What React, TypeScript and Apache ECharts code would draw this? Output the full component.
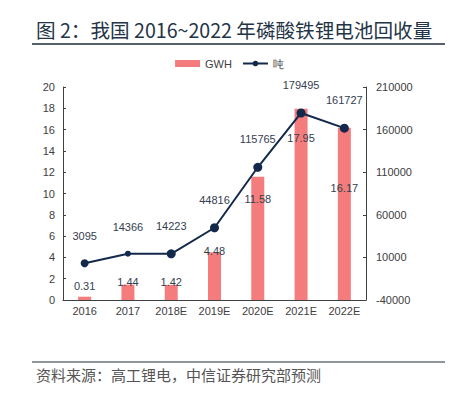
import React, { useEffect, useRef } from "react";
import * as echarts from "echarts";

const categories = ["2016", "2017", "2018E", "2019E", "2020E", "2021E", "2022E"];
const gwhValues = [0.31, 1.44, 1.42, 4.48, 11.58, 17.95, 16.17];
const tonValues = [3095, 14366, 14223, 44816, 115765, 179495, 161727];
const rightTicks = [-40000, 10000, 60000, 110000, 160000, 210000];

// label vertical nudges (style only)
const barLabelOffsets = [0, 8, 8, 9, 33, 40, 71];
const symbolSizes = [8, 6, 9, 9, 9, 9, 9];

const NUM_FONT = "Arial, 'Liberation Sans', sans-serif";
const CJK_FONT = "'Noto Sans CJK SC', sans-serif";

export default function App() {
  const ref = useRef<HTMLDivElement>(null);
  useEffect(() => {
    if (!ref.current) return;
    const chart = echarts.init(ref.current, undefined, { renderer: "svg" });
    chart.setOption({
      animation: false,
      backgroundColor: "#ffffff",
      grid: { left: 63, right: 93, top: 87, bottom: 94 },
      legend: {
        top: 53,
        left: "center",
        itemWidth: 25,
        itemHeight: 7,
        itemGap: 10,
        textStyle: { fontFamily: NUM_FONT, fontSize: 11, color: "#404040" },
        data: [
          { name: "GWH", icon: "rect" },
          { name: "吨" },
        ],
      },
      graphic: [
        {
          type: "text",
          left: 36,
          top: 20,
          style: {
            text: "图 2：我国 2016~2022 年磷酸铁锂电池回收量",
            fontFamily: CJK_FONT,
            fontSize: 19.6,
            fill: "#243447",
          },
        },
        {
          type: "line",
          shape: { x1: 32, y1: 44, x2: 445, y2: 44 },
          style: { stroke: "#1f2d3d", lineWidth: 1.5 },
        },
        {
          type: "line",
          shape: { x1: 32, y1: 362, x2: 445, y2: 362 },
          style: { stroke: "#1f2d3d", lineWidth: 1 },
        },
        {
          type: "text",
          left: 36,
          top: 367,
          style: {
            text: "资料来源：高工锂电，中信证券研究部预测",
            fontFamily: CJK_FONT,
            fontSize: 15,
            fill: "#555555",
          },
        },
      ],
      xAxis: {
        type: "category",
        data: categories,
        axisLine: { lineStyle: { color: "#404040" } },
        axisTick: { show: false },
        axisLabel: { interval: 0, color: "#404040", fontFamily: NUM_FONT, fontSize: 11, margin: 5 },
      },
      yAxis: [
        {
          type: "value",
          min: 0,
          max: 20,
          interval: 2,
          splitLine: { show: false },
          axisLine: { show: true, lineStyle: { color: "#404040" } },
          axisTick: { show: true, inside: true, length: 3 },
          axisLabel: { color: "#404040", fontFamily: NUM_FONT, fontSize: 11, margin: 8 },
        },
        {
          type: "value",
          min: -40000,
          max: 210000,
          splitLine: { show: false },
          axisLine: { show: true, lineStyle: { color: "#404040" } },
          axisTick: { show: true, inside: true, length: 3, customValues: rightTicks },
          axisLabel: {
            color: "#404040",
            fontFamily: NUM_FONT,
            fontSize: 11,
            margin: 10,
            customValues: rightTicks,
            formatter: (v: number) => String(v),
          },
        },
      ],
      series: [
        {
          name: "GWH",
          type: "bar",
          yAxisIndex: 0,
          barWidth: "30%",
          itemStyle: { color: "#F47C7C" },
          data: gwhValues.map((v, i) => ({
            value: v,
            label: {
              show: true,
              position: "top",
              distance: 5,
              offset: [0, barLabelOffsets[i]],
              color: "#34404f",
              fontFamily: NUM_FONT,
              fontSize: 11,
            },
          })),
        },
        {
          name: "吨",
          type: "line",
          yAxisIndex: 1,
          symbol: "circle",
          lineStyle: { color: "#13294b", width: 2 },
          itemStyle: { color: "#13294b" },
          label: {
            show: true,
            position: "top",
            distance: 18,
            color: "#34404f",
            fontFamily: NUM_FONT,
            fontSize: 11,
          },
          data: tonValues.map((v, i) => ({ value: v, symbolSize: symbolSizes[i] })),
        },
      ],
    });
    return () => chart.dispose();
  }, []);
  return (
    <div
      ref={ref}
      style={{ position: "fixed", left: 0, top: 0, width: 459, height: 394 }}
    />
  );
}
